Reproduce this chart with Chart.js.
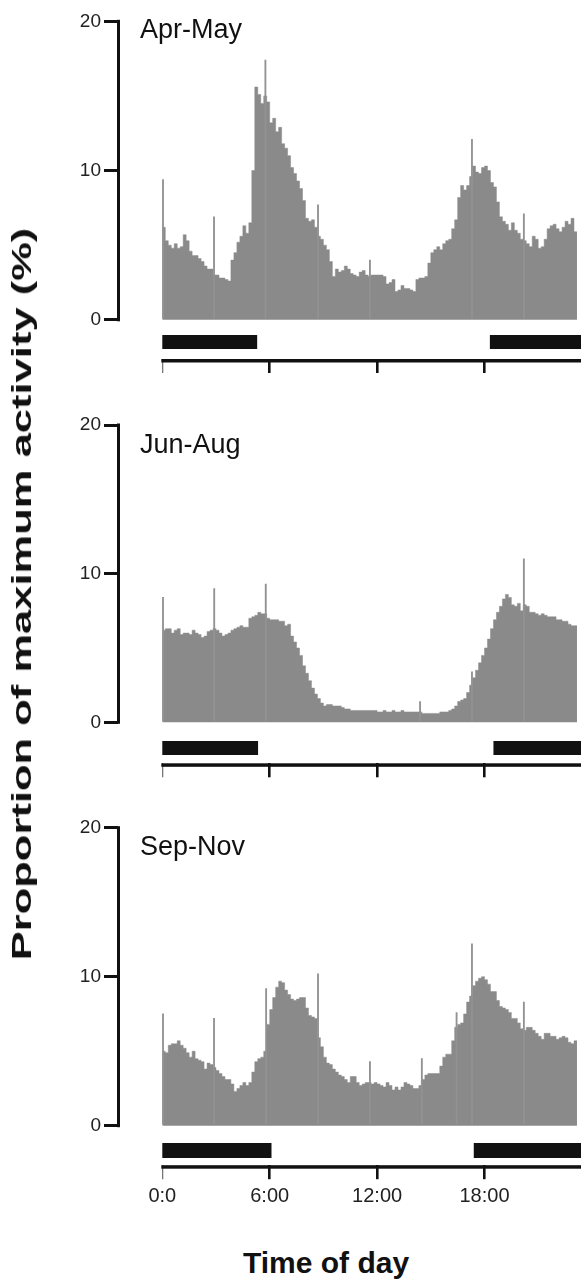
<!DOCTYPE html>
<html>
<head>
<meta charset="utf-8">
<script src="https://cdn.jsdelivr.net/npm/chart.js@4.4.1/dist/chart.umd.min.js"></script>
<style>
html, body { margin:0; padding:0; width:581px; height:1281px; overflow:hidden; background:#fff; }
#wrap { position:relative; width:581px; height:1281px; overflow:hidden; font-family:"Liberation Sans", Arial, sans-serif; color:#111; }
canvas { position:absolute; left:0; }
.lab { position:absolute; left:140px; font-size:27px; line-height:27px; white-space:nowrap; }
#ytitle { position:absolute; left:22px; top:594px; font-weight:bold; font-size:28px; line-height:30px; white-space:nowrap; }
#xtitle { position:absolute; left:326px; top:1248px; transform:translateX(-50%); font-weight:bold; font-size:30px; line-height:30px; white-space:nowrap; }
</style>
</head>
<body>
<div id="wrap">
  <canvas id="c1"></canvas>
  <canvas id="c2"></canvas>
  <canvas id="c3"></canvas>
  <div class="lab" style="top:15.5px">Apr-May</div>
  <div class="lab" style="top:430.5px">Jun-Aug</div>
  <div class="lab" style="top:832.5px">Sep-Nov</div>
  <div id="ytitle">Proportion of maximum activity (%)</div>
  <div id="xtitle">Time of day</div>
</div>
<script>
// 10 minute bins, % of maximum activity
const binHours = 1 / 6

const aprMay = [
  6.2, 5.3, 5.0, 4.8, 5.1, 4.8, 4.9, 5.7, 5.3, 4.6,
  4.3, 4.3, 4.1, 3.9, 3.6, 3.4, 3.4, 3.0, 3.0, 2.8,
  2.8, 2.7, 2.6, 4.0, 4.5, 5.2, 5.6, 6.3, 5.8, 6.5,
  10.0, 15.6, 15.1, 14.5, 15.0, 14.6, 13.2, 13.5, 12.6, 12.9,
  11.8, 11.5, 11.0, 10.2, 9.8, 9.3, 8.8, 8.0, 6.8, 6.6,
  6.7, 6.2, 5.6, 5.4, 5.0, 4.7, 3.9, 2.9, 3.4, 3.2,
  3.3, 3.6, 3.4, 3.1, 3.0, 2.9, 3.2, 3.3, 3.0, 2.9,
  3.0, 3.0, 3.0, 3.0, 2.9, 2.4, 2.5, 2.7, 1.9, 2.0,
  2.3, 2.1, 2.1, 2.0, 1.9, 2.7, 2.8, 2.8, 2.9, 3.8,
  4.5, 4.7, 4.9, 4.7, 5.1, 5.3, 5.4, 6.1, 6.7, 8.2,
  9.0, 8.7, 9.0, 9.6, 10.3, 9.9, 9.8, 10.2, 10.3, 10.0,
  9.2, 8.9, 7.9, 6.9, 6.6, 6.4, 6.0, 6.5, 6.0, 5.8,
  5.4, 5.3, 5.1, 4.9, 5.6, 5.4, 4.8, 4.9, 5.4, 6.1,
  6.3, 6.4, 6.1, 5.9, 6.2, 6.6, 6.4, 6.8, 5.9
]
const junAug = [
  6.2, 6.3, 6.3, 6.0, 6.2, 6.3, 5.9, 6.0, 6.0, 5.9,
  6.2, 6.0, 5.9, 5.7, 5.8, 6.1, 6.2, 6.3, 6.2, 6.0,
  5.8, 5.9, 6.0, 6.2, 6.3, 6.4, 6.5, 6.4, 6.4, 7.0,
  7.1, 7.2, 7.4, 7.3, 7.3, 7.0, 6.9, 6.9, 6.9, 6.8,
  6.8, 6.5, 6.6, 5.8, 5.4, 5.0, 4.5, 3.8, 3.3, 2.8,
  2.3, 1.9, 1.6, 1.3, 1.1, 1.2, 1.2, 1.1, 1.1, 1.1,
  1.0, 0.9, 0.9, 0.8, 0.8, 0.8, 0.8, 0.8, 0.8, 0.8,
  0.8, 0.8, 0.7, 0.7, 0.8, 0.7, 0.7, 0.8, 0.7, 0.7,
  0.8, 0.7, 0.7, 0.7, 0.7, 0.7, 0.7, 0.6, 0.6, 0.6,
  0.6, 0.6, 0.6, 0.7, 0.7, 0.7, 0.8, 0.9, 1.1, 1.4,
  1.5, 1.6, 2.0, 2.5, 3.0, 3.5, 4.0, 4.5, 5.0, 5.6,
  6.3, 6.9, 7.4, 7.8, 8.3, 8.6, 8.4, 7.9, 7.8, 8.0,
  7.5, 7.9, 7.8, 7.4, 7.4, 7.3, 7.2, 7.3, 7.2, 7.1,
  7.1, 7.1, 6.9, 6.9, 6.8, 6.8, 6.6, 6.5, 6.5
]
const sepNov = [
  5.0, 4.9, 5.4, 5.5, 5.5, 5.7, 5.4, 5.2, 4.9, 4.6,
  5.0, 4.5, 4.4, 4.3, 3.8, 4.2, 4.1, 3.9, 3.7, 3.5,
  3.3, 3.1, 3.1, 2.8, 2.3, 2.5, 2.7, 2.9, 2.7, 2.9,
  3.6, 4.3, 4.5, 4.6, 5.0, 6.8, 7.8, 8.6, 9.3, 9.7,
  9.6, 9.1, 8.8, 8.5, 8.4, 8.5, 8.6, 8.6, 7.9, 7.4,
  7.3, 7.2, 5.9, 5.3, 4.6, 4.2, 4.1, 3.8, 3.6, 3.4,
  3.3, 3.1, 2.9, 3.3, 3.3, 2.9, 2.7, 2.8, 2.9, 2.9,
  2.8, 2.9, 2.8, 2.7, 2.6, 2.9, 2.7, 2.4, 2.6, 2.4,
  2.6, 2.9, 2.8, 2.7, 2.5, 2.5, 2.7, 3.1, 3.4, 3.5,
  3.5, 3.5, 3.5, 4.0, 4.6, 4.8, 4.8, 5.7, 6.6, 6.8,
  6.9, 7.5, 8.3, 8.7, 9.4, 9.7, 9.9, 10.0, 9.8, 9.5,
  9.0, 9.0, 8.4, 8.0, 7.9, 7.8, 7.6, 7.2, 7.2, 6.9,
  6.5, 6.4, 6.6, 6.6, 6.4, 6.2, 6.0, 5.8, 6.2, 6.2,
  6.0, 6.0, 5.8, 5.9, 6.0, 5.9, 5.6, 5.5, 5.7
]

// single-bin spikes
const aprSpikeHours = [0.04, 2.89, 5.76, 8.7, 11.6, 17.3, 20.2]
const aprSpikeValues = [9.4, 6.9, 17.4, 7.7, 4.0, 12.1, 7.1]
const junSpikeHours = [0.04, 2.9, 5.78, 14.4, 17.3, 20.2]
const junSpikeValues = [8.4, 9.0, 9.3, 1.4, 3.4, 11.0]
const sepSpikeHours = [0.04, 2.89, 5.8, 8.7, 11.6, 14.5, 16.44, 17.3, 20.2]
const sepSpikeValues = [7.5, 7.2, 9.2, 10.2, 4.3, 4.5, 7.6, 12.2, 8.3]

// night (dark) periods, hours
const nightApr = [[0, 5.3], [18.3, 24]]
const nightJun = [[0, 5.35], [18.5, 24]]
const nightSep = [[0, 6.1], [17.4, 24]]

const hourTicks = [0, 6, 12, 18]
const hourLabels = ['0:0', '6:00', '12:00', '18:00']
const yTicks = [0, 10, 20]

Chart.defaults.font.family = '"Liberation Sans", Arial, sans-serif'
Chart.defaults.color = '#111'

const fillGrey = '#8a8a8a'
const spikeGrey = '#929292'
const ink = '#111'

// x: 0h at 162.3px, 17.9 px per hour, chart area starts at 118px
const pxPerHour = 17.9
const xMin = -(162.3 - 118) / pxPerHour
const canvasW = 600
const padRight = canvasW - (162.3 + 24 * pxPerHour)

const panels = [
  { id: 'c1', values: aprMay, spikeH: aprSpikeHours, spikeV: aprSpikeValues, night: nightApr,
    top20: 21.3, zero: 319.8, axis: 359, barTop: 15.2, barBot: 29.2, labels: false },
  { id: 'c2', values: junAug, spikeH: junSpikeHours, spikeV: junSpikeValues, night: nightJun,
    top20: 425, zero: 722.3, axis: 763.3, barTop: 18.7, barBot: 32.7, labels: false },
  { id: 'c3', values: sepNov, spikeH: sepSpikeHours, spikeV: sepSpikeValues, night: nightSep,
    top20: 827.7, zero: 1125.7, axis: 1165.2, barTop: 17.3, barBot: 32.3, labels: true }
]

function makePanel(p){
  const padTop = 30
  const canvasTop = Math.floor(p.top20) - padTop
  const xH = p.labels ? 60 : 20
  const inner = p.axis - canvasTop
  const height = Math.ceil(inner) + xH
  const padBottom = height - xH - inner
  const yMin = -(p.axis - p.zero) / ((p.zero - p.top20) / 20)

  const canvas = document.getElementById(p.id)
  canvas.width = canvasW
  canvas.height = height
  canvas.style.top = canvasTop + 'px'

  const points = p.values.map((v, i) => ({ x: i * binHours, y: v }))
  points.push({ x: p.values.length * binHours, y: p.values[p.values.length - 1] })
  const spikes = p.spikeH.map((h, i) => ({ x: h, y: p.spikeV[i] }))

  const frame = {
    id: 'frame',
    afterDraw(chart){
      const { ctx, chartArea } = chart
      const x = chart.scales.x, y = chart.scales.y
      const z = y.getPixelForValue(0)
      ctx.save()
      ctx.fillStyle = ink
      // dark period bars
      p.night.forEach(([a, b]) => {
        const x1 = x.getPixelForValue(a), x2 = x.getPixelForValue(b)
        ctx.fillRect(x1, z + p.barTop, x2 - x1, p.barBot - p.barTop)
      })
      // y axis bracket 0..20
      const t = y.getPixelForValue(20)
      ctx.fillRect(chartArea.left - 1, t - 1.5, 3, z - t + 3)
      // time axis line
      const x0 = x.getPixelForValue(0)
      ctx.fillRect(x0 - 1, chartArea.bottom, chart.width - x0 + 1, 3.5)
      ctx.restore()
    }
  }

  new Chart(canvas, {
    type: 'line',
    data: {
      datasets: [
        { type: 'bar', data: spikes, backgroundColor: spikeGrey, barThickness: 1.2, order: 1 },
        { type: 'line', data: points, stepped: 'before', fill: 'origin',
          backgroundColor: fillGrey, borderColor: fillGrey, borderWidth: 0.5,
          pointRadius: 0, order: 2 }
      ]
    },
    options: {
      responsive: false,
      animation: false,
      events: [],
      layout: { padding: { top: padTop + (p.top20 - Math.floor(p.top20)), bottom: padBottom, left: 0, right: padRight } },
      plugins: { legend: { display: false }, tooltip: { enabled: false } },
      scales: {
        x: {
          type: 'linear', min: xMin, max: 24, offset: false,
          border: { display: false },
          grid: {
            offset: false, drawOnChartArea: false, drawTicks: true, tickLength: 14,
            color: c => (c.tick && c.tick.value === 0) ? '#777' : ink,
            lineWidth: c => (c.tick && c.tick.value === 0) ? 1.3 : 2.6
          },
          ticks: {
            display: p.labels, autoSkip: false, maxRotation: 0, padding: 5,
            font: { size: 20 }, color: '#222',
            callback: (v, i) => hourLabels[i]
          },
          afterBuildTicks: s => { s.ticks = hourTicks.map(v => ({ value: v })) },
          afterFit: s => { s.height = xH }
        },
        y: {
          min: yMin, max: 20,
          border: { display: false },
          grid: { drawOnChartArea: false, drawTicks: true, tickLength: 14, lineWidth: 3, color: ink },
          ticks: { padding: 3, font: { size: 19 }, color: '#222' },
          afterBuildTicks: s => { s.ticks = yTicks.map(v => ({ value: v })) },
          afterFit: s => { s.width = 118 }
        }
      }
    },
    plugins: [frame]
  })
}

panels.forEach(makePanel)

// y title runs from about y=228 to y=960 in the reference
const yt = document.getElementById('ytitle')
const stretch = 732 / yt.offsetWidth
yt.style.transform = 'translate(-50%,-50%) rotate(-90deg) scaleX(' + stretch + ')'
</script>
</body>
</html>
